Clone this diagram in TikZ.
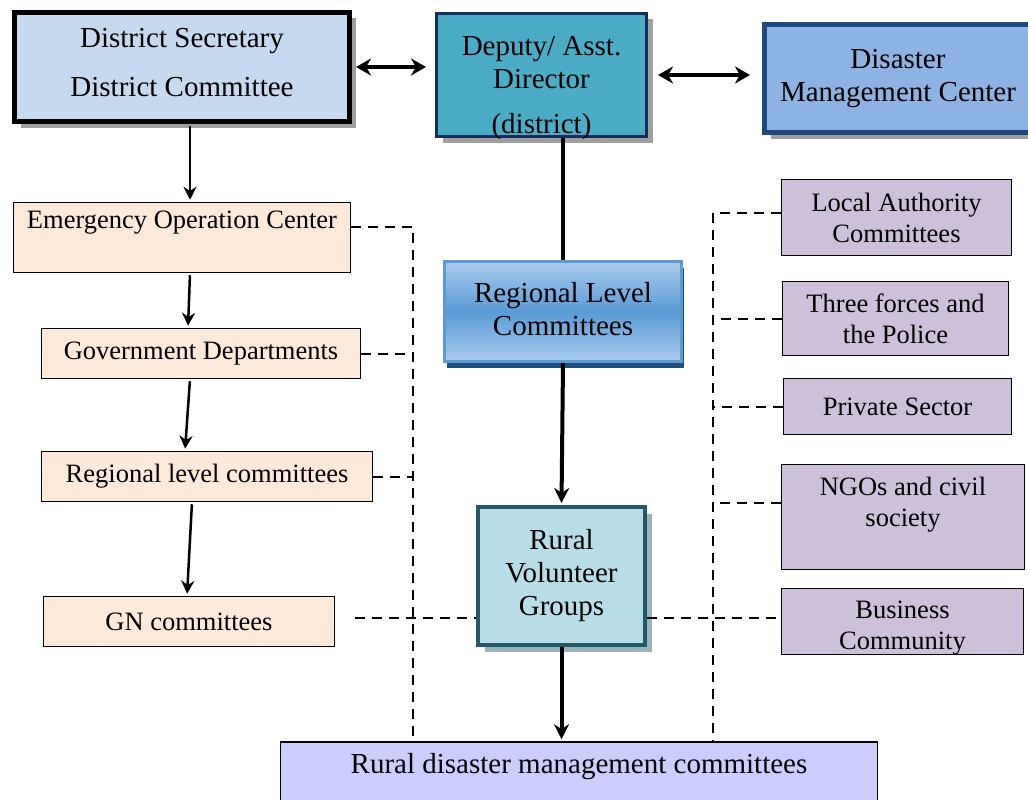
\documentclass[tikz,border=0pt]{standalone}
\usepackage{fontspec}
\setmainfont{Liberation Serif}
\usetikzlibrary{%
  arrows.meta,%
  shadows
}
\definecolor{dsfill}{HTML}{C6D9F1}
\definecolor{dadfill}{HTML}{4BACC6}
\definecolor{dadline}{HTML}{172B5E}
\definecolor{dmcfill}{HTML}{8DB3E2}
\definecolor{dmcline}{HTML}{1F497D}
\definecolor{rlctop}{HTML}{A9CBEC}
\definecolor{rlcmid}{HTML}{5B9BD5}
\definecolor{rlcline}{HTML}{5B9BD5}
\definecolor{rlcshade}{HTML}{1F4E79}
\definecolor{rvgfill}{HTML}{B7DEE8}
\definecolor{rvgline}{HTML}{215968}
\definecolor{leftfill}{HTML}{FDE9D9}
\definecolor{rightfill}{HTML}{CCC0DA}
\definecolor{rdmcfill}{HTML}{CCCCFF}
\newcommand{\bigtext}{\fontsize{29}{33}\selectfont}
\newcommand{\smalltext}{\fontsize{26.5}{31}\selectfont}

\begin{document}
\begin{tikzpicture}[x=1pt,y=-1pt,
    box/.style={draw,line width=1.5pt,align=center,inner sep=0pt,font=\smalltext},
    leftbox/.style={box,fill=leftfill},
    rightbox/.style={box,fill=rightfill},
    topbox/.style={box,font=\bigtext,drop shadow={shadow xshift=6pt,shadow yshift=-6pt,fill=gray!75,opacity=1}},
    thinarrow/.style={line width=2.5pt,-{Stealth[length=13pt,width=13pt]},shorten <=2pt,shorten >=2pt},
    thickarrow/.style={line width=4pt,-{Stealth[length=15pt,width=15pt]},shorten >=2pt},
    dblarrow/.style={line width=4.5pt,{Stealth[length=15pt,width=17pt]}-{Stealth[length=15pt,width=17pt]}},
    dashline/.style={line width=2pt,dash pattern=on 10pt off 7pt}]
  \useasboundingbox (0,0) rectangle (1028,800);
  % top row
  \node[topbox,line width=5pt,fill=dsfill,minimum width=335pt,minimum height=109pt] (ds) at (182,67)
    {District Secretary\\[16pt]District Committee\\[-24pt]~};
  \node[topbox,line width=3pt,draw=dadline,fill=dadfill,minimum width=210pt,minimum height=123pt,
    label={[name=dadtext,align=center,font=\bigtext,yshift=-13pt]center:{Deputy/ Asst.\\Director\\[12pt](district)}}]
    (dad) at (541.5,75) {};
  \node[topbox,line width=5pt,draw=dmcline,fill=dmcfill,minimum width=267pt,minimum height=108pt] (dmc) at (898,78.5)
    {Disaster\\Management Center};
  % middle column
  \node[box,font=\bigtext,line width=3pt,draw=rlcline,top color=rlctop,bottom color=rlctop,middle color=rlcmid,
    drop shadow={shadow xshift=2pt,shadow yshift=-6pt,fill=rlcshade,opacity=1},
    minimum width=237pt,minimum height=100pt] (rlc) at (563,311.5) {Regional Level\\Committees\\[-28pt]~};
  \node[box,font=\bigtext,line width=4pt,draw=rvgline,fill=rvgfill,
    drop shadow={shadow xshift=7pt,shadow yshift=-7pt,fill=rvgline!45,opacity=1},
    minimum width=167pt,minimum height=138pt] (rvg) at (561.5,576) {Rural\\Volunteer\\Groups};
  \node[box,font=\bigtext,fill=rdmcfill,text depth=28pt,minimum width=597pt,minimum height=70pt] (rdmc) at (579,777)
    {Rural disaster management committees};
  % left column
  \node[leftbox,text depth=36pt,minimum width=337pt,minimum height=70pt] (eoc) at (182,237.5) {Emergency Operation Center};
  \node[leftbox,minimum width=319pt,minimum height=50pt] (gd) at (201,353.5) {Government Departments};
  \node[leftbox,minimum width=331pt,minimum height=50pt] (rlcl) at (207,476.5) {Regional level committees};
  \node[leftbox,minimum width=291pt,minimum height=50pt] (gn) at (189,621.5) {GN committees};
  % right column
  \node[rightbox,minimum width=230pt,minimum height=76pt] (lac) at (896.5,217.5) {Local Authority\\Committees};
  \node[rightbox,minimum width=226pt,minimum height=74pt] (tf) at (895.5,318.5) {Three forces and\\the Police};
  \node[rightbox,minimum width=228pt,minimum height=56pt] (ps) at (897.5,406.5) {Private Sector};
  \node[rightbox,minimum width=243pt,minimum height=105pt] (ngo) at (903,517) {NGOs and civil\\society\\~};
  \node[rightbox,minimum width=242pt,minimum height=66pt,
    label={[name=bctext,align=center,font=\smalltext,yshift=-7pt]center:{Business\\Community}}]
    (bc) at (902.5,621.5) {};

  \draw[dblarrow,shorten <=4pt,shorten >=9pt] (ds.east) -- (dad.west |- ds.east);
  \draw[dblarrow,shorten <=10pt,shorten >=12pt] (dad.east) -- (dmc.west |- dad.east);

  \draw[thinarrow] ([xshift=8pt]ds.south) -- ([xshift=8pt]eoc.north);
  \draw[thinarrow] ([xshift=8pt]eoc.south) -- ([xshift=-13pt]gd.north);
  \draw[thinarrow] ([xshift=-11pt]gd.south) -- ([xshift=-22pt]rlcl.north);
  \draw[thinarrow] ([xshift=-15pt]rlcl.south) -- ([xshift=-2pt]gn.north);

  \draw[line width=4pt] (rlc.north |- dad.south) -- (rlc.north);
  \draw[thickarrow] (rlc.south) -- (rvg.north);
  \draw[thickarrow] (rvg.south) -- (rvg.south |- rdmc.north);

  % dashed links
  \coordinate (lbus) at (413,227);
  \coordinate (rbus) at (713,213);
  \coordinate (ngoin) at ([yshift=14pt]ngo.west);
  \coordinate (gnout) at ([yshift=4pt]gn.east);
  \draw[dashline] (eoc.east |- lbus) -- (lbus) -- (lbus |- rdmc.north);
  \draw[dashline] (gd.east) -- (gd.east -| lbus);
  \draw[dashline] (rlcl.east) -- (rlcl.east -| lbus);
  \draw[dashline] ([xshift=20pt]gnout) -- (gnout -| rvg.west);
  \draw[dashline] (lac.west |- rbus) -- (rbus) -- (rbus |- rdmc.north);
  \draw[dashline] (tf.west) -- (tf.west -| rbus);
  \draw[dashline] (ps.west) -- (ps.west -| rbus);
  \draw[dashline] (ngoin) -- (ngoin -| rbus);
  \draw[dashline] (rvg.east |- gnout) -- (bc.west |- gnout);
\end{tikzpicture}
\end{document}
